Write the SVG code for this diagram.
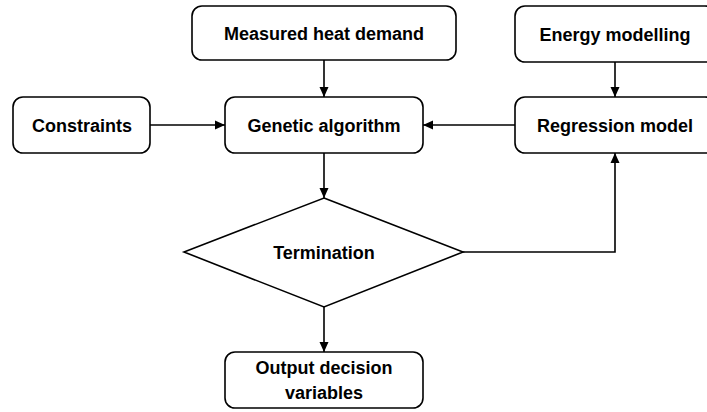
<svg xmlns="http://www.w3.org/2000/svg" width="707" height="412" viewBox="0 0 707 412">
<style>
.box{fill:#fff;stroke:#000;stroke-width:1.6}
.t{font-family:"Liberation Sans",Arial,sans-serif;font-weight:bold;font-size:18px;fill:#000;text-anchor:middle}
.c{fill:none;stroke:#000;stroke-width:1.6}
</style>
<defs>
<marker id="ah" viewBox="0 0 10 10" refX="10" refY="5" markerWidth="10" markerHeight="10" orient="auto" markerUnits="userSpaceOnUse">
<path d="M0,0.5 L10,5 L0,9.5 z" fill="#000"/>
</marker>
</defs>
<rect width="707" height="412" fill="#fff"/>
<g id="connectors">
<line class="c" x1="324" y1="60" x2="324" y2="97" marker-end="url(#ah)"/>
<line class="c" x1="150" y1="125" x2="225" y2="125" marker-end="url(#ah)"/>
<line class="c" x1="515" y1="125" x2="423" y2="125" marker-end="url(#ah)"/>
<line class="c" x1="615" y1="62" x2="615" y2="97" marker-end="url(#ah)"/>
<line class="c" x1="324" y1="153" x2="324" y2="198" marker-end="url(#ah)"/>
<polyline class="c" points="463,252 615,252 615,153" marker-end="url(#ah)"/>
<line class="c" x1="324" y1="307" x2="324" y2="352" marker-end="url(#ah)"/>
</g>
<g id="measured">
<rect class="box" x="192" y="6" width="264" height="54" rx="10"/>
<text class="t" x="324" y="40">Measured heat demand</text>
</g>
<g id="energy">
<rect class="box" x="515" y="6" width="200" height="56" rx="10"/>
<text class="t" x="615" y="41">Energy modelling</text>
</g>
<g id="constraints">
<rect class="box" x="13" y="97" width="137" height="56" rx="10"/>
<text class="t" x="82" y="132">Constraints</text>
</g>
<g id="ga">
<rect class="box" x="225" y="97" width="198" height="56" rx="10"/>
<text class="t" x="324" y="132">Genetic algorithm</text>
</g>
<g id="regression">
<rect class="box" x="515" y="97" width="200" height="56" rx="10"/>
<text class="t" x="615" y="132">Regression model</text>
</g>
<g id="termination">
<polygon class="box" points="324,198 463,252 324,307 184,252"/>
<text class="t" x="324" y="259">Termination</text>
</g>
<g id="output">
<rect class="box" x="225" y="352" width="198" height="56" rx="10"/>
<text class="t" x="324" y="374">Output decision</text>
<text class="t" x="324" y="399">variables</text>
</g>
</svg>
